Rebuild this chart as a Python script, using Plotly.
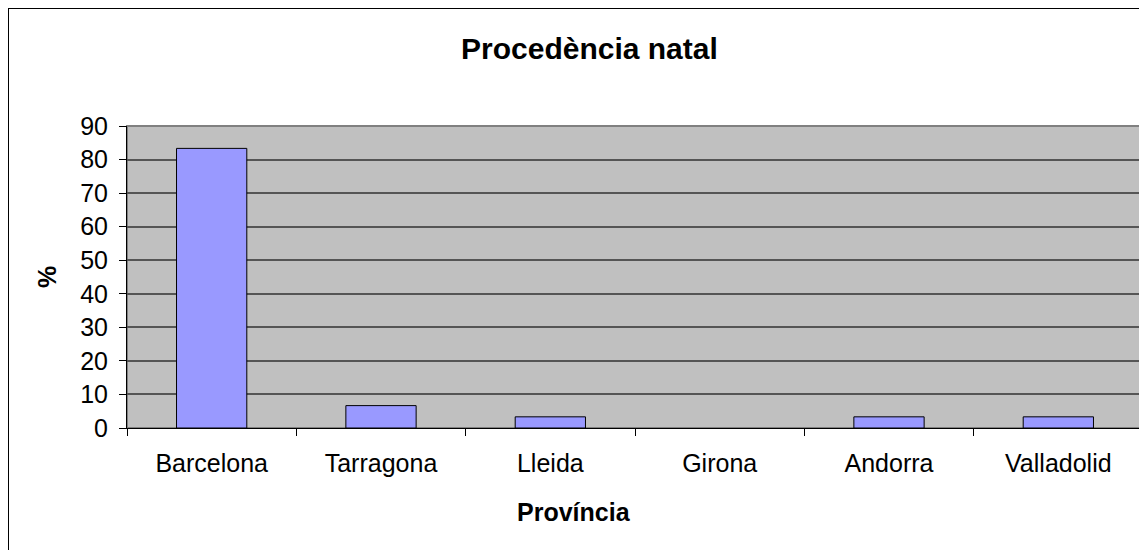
import plotly.graph_objects as go

# Procedència natal dels enquestats (%)
provincies = ['Barcelona', 'Tarragona', 'Lleida', 'Girona', 'Andorra', 'Valladolid']
percentatge = [83.33, 6.67, 3.33, 0, 3.33, 3.33]
y_ticks = list(range(0, 91, 10))

# la pàgina té un marge de 8 px; les coordenades de sota són de pantalla
OFF = 8
W, H = 1147 - OFF, 550 - OFF
left, right, top, bottom = 127, 1143, 126, 428
L, T = left - OFF, top - OFF
R, B = W - (right - OFF), H - (bottom - OFF)
pw, ph = right - left, bottom - top


def px_x(x):
    return (x - left) / pw


def px_y(y):
    return 1 - (y - top) / ph


fig = go.Figure()

fig.add_trace(go.Bar(
    x=provincies,
    y=percentatge,
    marker=dict(color='#9999FF',
                line=dict(color='black', width=[1 if v > 0 else 0 for v in percentatge])),
))

# marc del gràfic
fig.add_shape(type='rect', xref='paper', yref='paper',
              x0=px_x(8), x1=px_x(1170), y0=px_y(570), y1=px_y(8),
              line=dict(color='black', width=2), layer='below')
# vora de l'àrea de traçat
fig.add_shape(type='rect', xref='paper', yref='paper',
              x0=0, x1=1, y0=0, y1=1,
              line=dict(color='#808080', width=2), layer='below')

fig.add_annotation(text='<b>Procedència natal</b>', xref='paper', yref='paper',
                   x=px_x(589), y=px_y(48), showarrow=False,
                   font=dict(size=30, color='black'), yanchor='middle')
fig.add_annotation(text='<b>Província</b>', xref='paper', yref='paper',
                   x=px_x(574), y=px_y(512), showarrow=False,
                   font=dict(size=25, color='black'), yanchor='middle')
fig.add_annotation(text='<b>%</b>', xref='paper', yref='paper',
                   x=px_x(47), y=px_y(277), showarrow=False, textangle=-90,
                   font=dict(size=25, color='black'), xanchor='center', yanchor='middle')

fig.update_layout(
    width=W,
    height=H,
    margin=dict(l=L, r=R, t=T, b=B),
    paper_bgcolor='white',
    plot_bgcolor='#C0C0C0',
    font=dict(family='Liberation Sans, Arial, sans-serif', size=25, color='black'),
    bargap=0.585,
    showlegend=False,
    xaxis=dict(
        tickson='boundaries',
        ticks='outside',
        ticklen=7,
        tickcolor='black',
        showline=True,
        linecolor='black',
        linewidth=1,
        showgrid=False,
        ticklabelstandoff=13,
    ),
    yaxis=dict(
        range=[0, 90],
        tickvals=y_ticks,
        ticks='outside',
        ticklen=7,
        tickcolor='black',
        showline=True,
        linecolor='black',
        linewidth=1,
        showgrid=True,
        gridcolor='#555555',
        gridwidth=1.5,
        zeroline=False,
        ticklabelstandoff=6,
    ),
)

fig.write_html("out.html")
